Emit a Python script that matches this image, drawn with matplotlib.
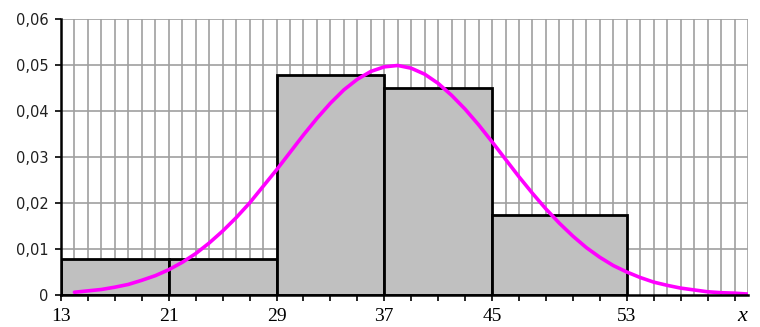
import matplotlib
matplotlib.use("Agg")
import matplotlib.pyplot as plt

# histogram bins (left edge, width) and heights
bin_left = [13, 21, 29, 37, 45]
bin_width = [8, 8, 8, 8, 10]
bin_height = [0.0078, 0.0078, 0.0478, 0.0450, 0.0173]

# curve points
curve_x = [14, 15, 16, 17, 18, 19, 20, 21, 22, 23, 24, 25, 26, 27, 28, 29,
           30, 31, 32, 33, 34, 35, 36, 37, 38, 39, 40, 41, 42, 43, 44, 45,
           46, 47, 48, 49, 50, 51, 52, 53, 54, 55, 56, 57, 58, 59, 60, 61,
           62, 63, 64]
curve_y = [0.0006, 0.0009, 0.0012, 0.0017, 0.0023, 0.0032, 0.0042, 0.0055,
           0.0071, 0.0090, 0.0113, 0.0139, 0.0168, 0.0200, 0.0236, 0.0272,
           0.0310, 0.0348, 0.0384, 0.0417, 0.0446, 0.0469, 0.0486, 0.0496,
           0.0499, 0.0493, 0.0480, 0.0460, 0.0434, 0.0404, 0.0370, 0.0333,
           0.0295, 0.0257, 0.0221, 0.0187, 0.0156, 0.0128, 0.0103, 0.0082,
           0.0064, 0.0050, 0.0038, 0.0028, 0.0021, 0.0015, 0.0011, 0.0007,
           0.0005, 0.0004, 0.0002]

xtick_pos = [13, 21, 29, 37, 45, 55]
xtick_lab = ["13", "21", "29", "37", "45", "53"]
ytick_pos = [0, 0.01, 0.02, 0.03, 0.04, 0.05, 0.06]
ytick_lab = ["0", "0,01", "0,02", "0,03", "0,04", "0,05", "0,06"]

fig = plt.figure(figsize=(7.6, 3.27), dpi=100)
ax = fig.add_axes([61 / 760, 1 - 295 / 327, 687 / 760, 276 / 327])
ax.set_xlim(13, 64)
ax.set_ylim(0, 0.06)

grid_c = "#a0a0a0"
for gx in range(14, 65):
    ax.axvline(gx, color=grid_c, lw=1.2, zorder=0)
for gy in ytick_pos[1:]:
    ax.axhline(gy, color=grid_c, lw=1.2, zorder=0)

ax.bar(bin_left, bin_height, width=bin_width, align="edge",
       color="#c0c0c0", edgecolor="black", linewidth=2, zorder=2)

ax.plot(curve_x, curve_y, color="#ff00ff", lw=2.6, zorder=3,
        solid_capstyle="round", solid_joinstyle="round")

for s in ["top", "right"]:
    ax.spines[s].set_visible(False)
ax.spines["left"].set_linewidth(1.8)
ax.spines["bottom"].set_linewidth(1.8)
ax.spines["left"].set_zorder(4)
ax.spines["bottom"].set_zorder(4)

ax.set_yticks(ytick_pos)
ax.set_yticklabels(ytick_lab, family="DejaVu Sans", fontsize=10.5,
                   color="#202020")
ax.set_xticks(list(range(13, 64, 2)))
ax.set_xticklabels([""] * len(range(13, 64, 2)))
ax.tick_params(axis="y", length=4, width=1.2, pad=5)
ax.tick_params(axis="x", length=4.5, width=1.2, pad=2)

for p, t in zip(xtick_pos, xtick_lab):
    ax.text(p, -0.0047, t, ha="center", va="center", fontsize=14,
            family="Liberation Serif")
ax.text(63.6, -0.0047, "x", ha="center", va="center", fontsize=16,
        family="Liberation Serif", style="italic")

fig.savefig("out.png", dpi=100)
